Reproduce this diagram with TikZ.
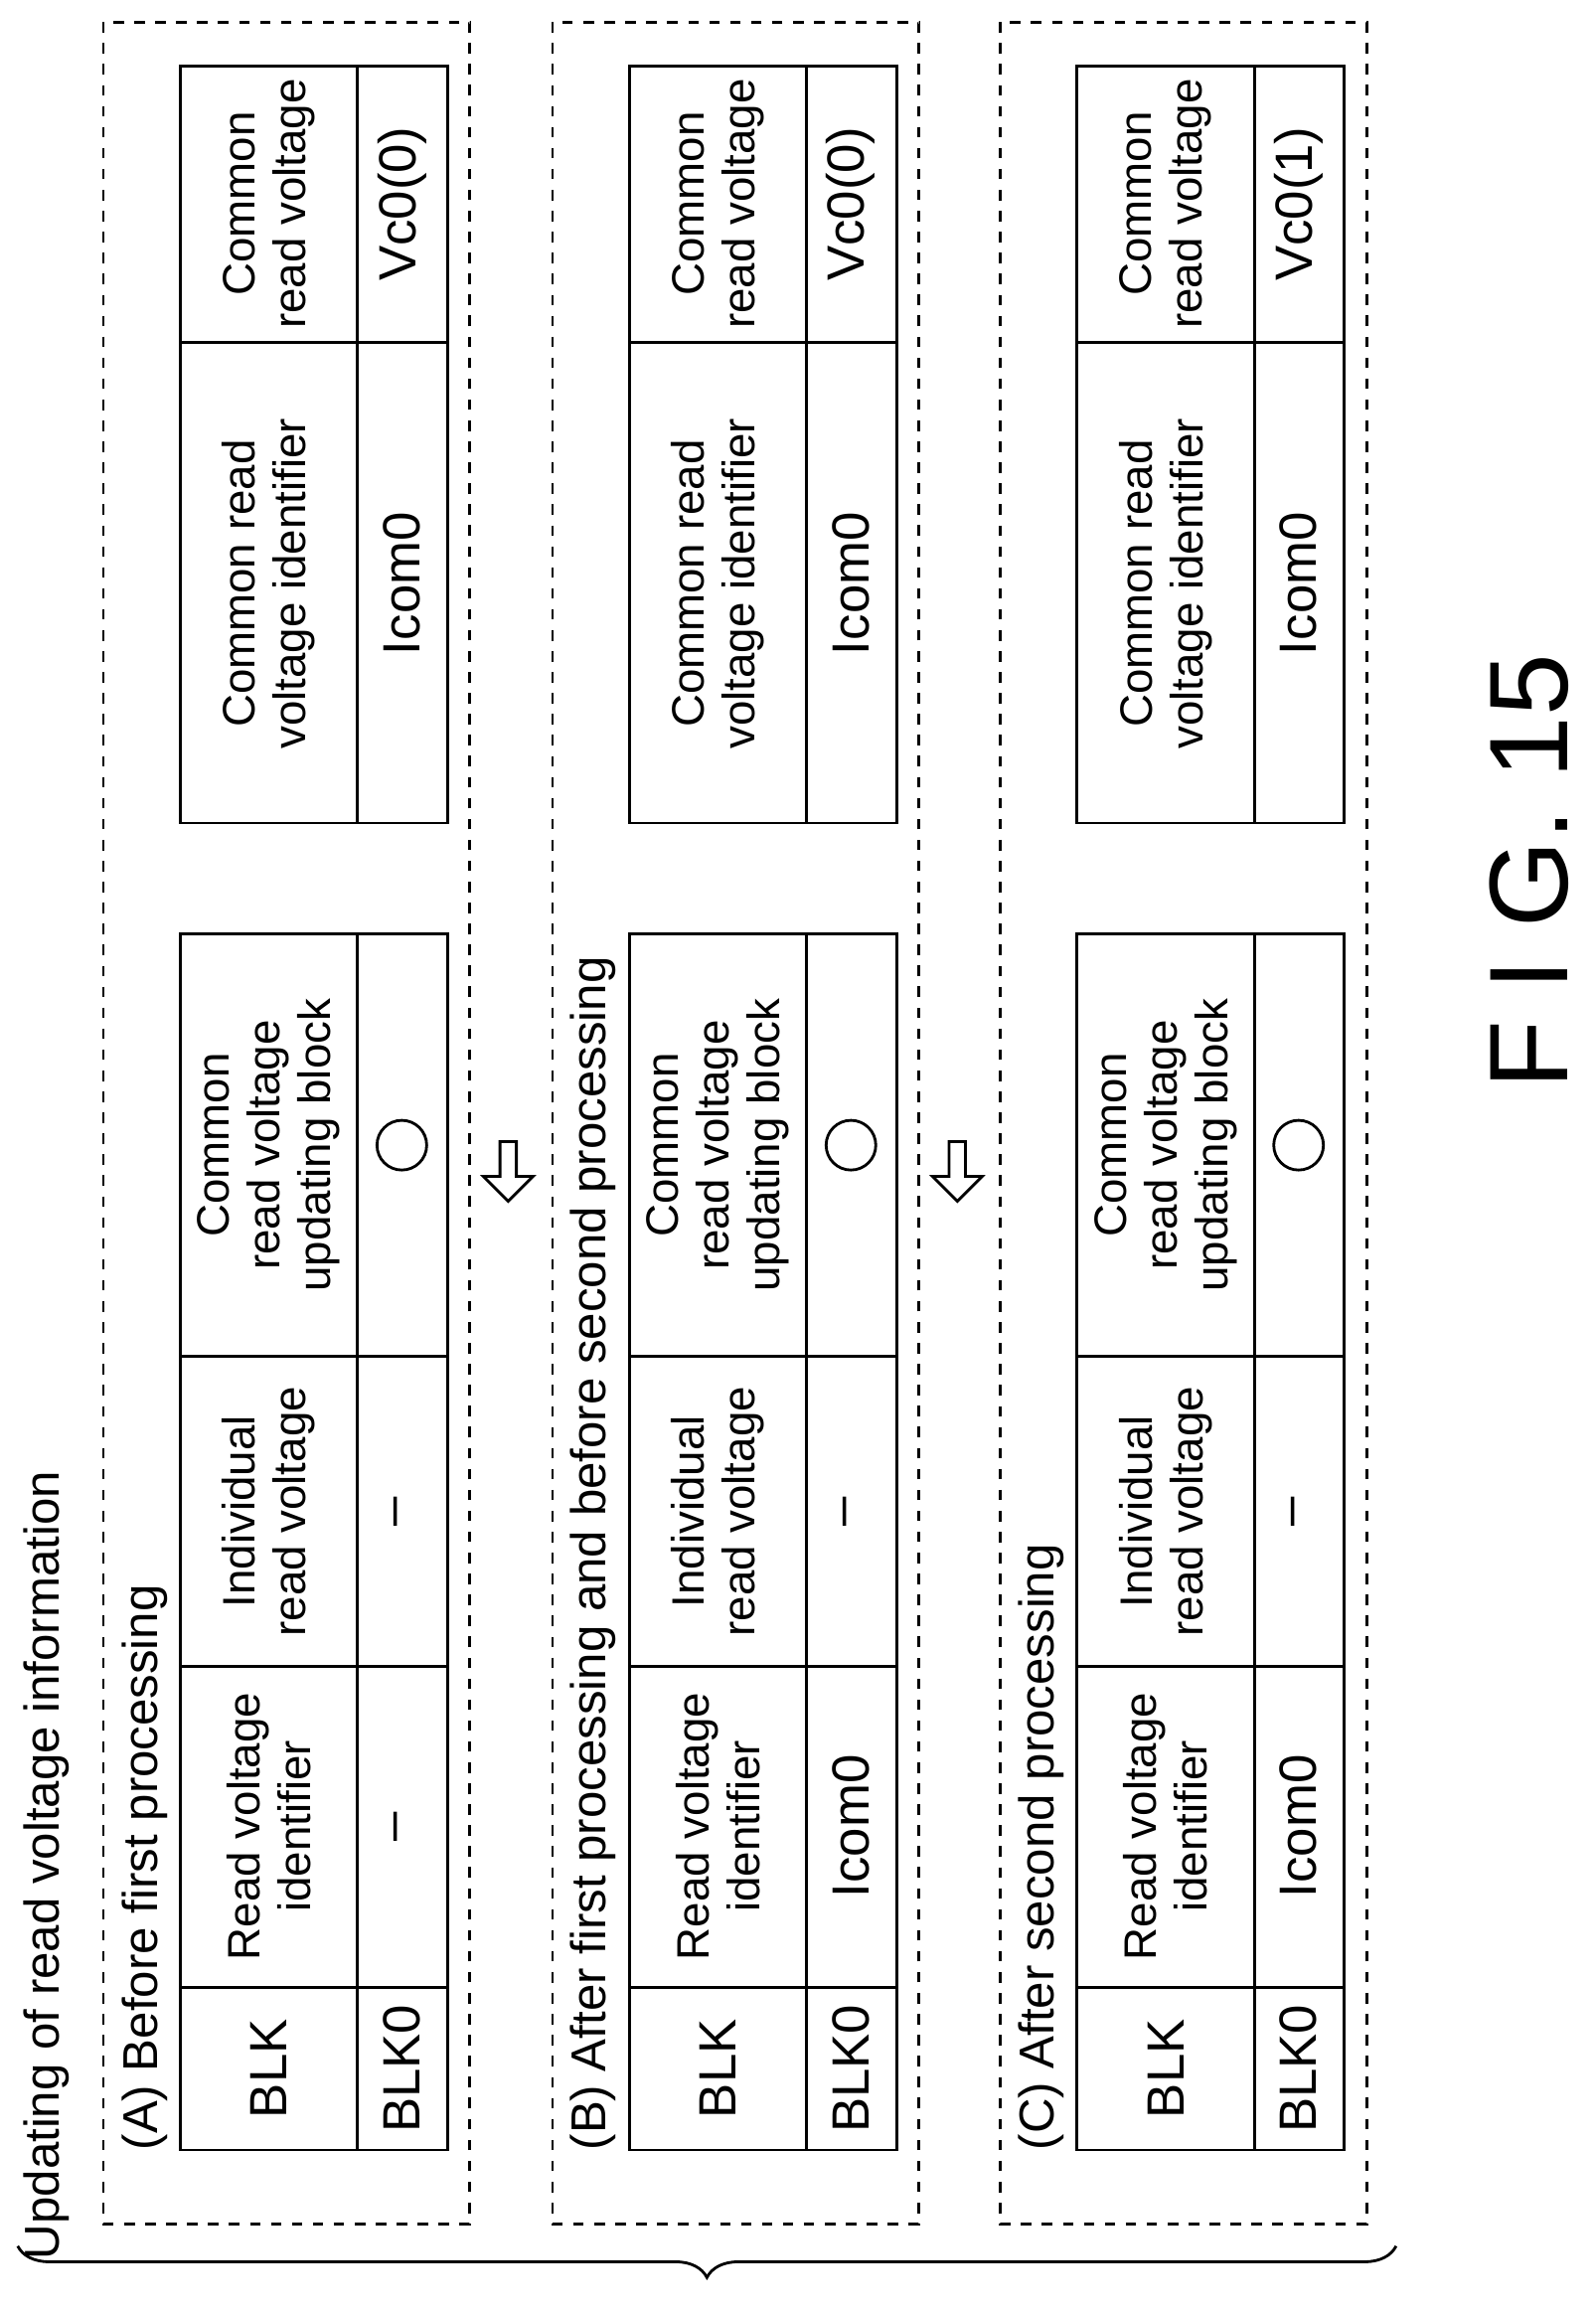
\documentclass[tikz,border=0pt]{standalone}
\usepackage{fontspec}
\setmainfont{Liberation Sans}
\usetikzlibrary{shapes.arrows,decorations.pathreplacing}

\tikzset{
  cell/.style={rotate=90, align=center, font=\fontsize{13}{14.5}\selectfont},
  val/.style={rotate=90, font=\fontsize{15}{17}\selectfont},
  panel/.style={dashed, thick},
  tbl/.style={thick},
  hollow/.style={single arrow, draw, thick, fill=white, rotate=-90,
    minimum height=0.6cm, minimum width=0.5cm, single arrow head extend=0.1cm, inner sep=1pt}
}

% one panel: #1 = x offset, #2 = name, #3 #4 #5 #6 #7 #8 = values
\newcommand{\rvpanel}[8]{%
  \draw[panel] (70+#1,15) rectangle (318+#1,1505);
  % first table
  \draw[tbl] (122+#1,632) rectangle (303+#1,1455);
  \draw[tbl] (242+#1,632) -- (242+#1,1455);
  \foreach \yy in {918,1128,1345} \draw[tbl] (122+#1,\yy) -- (303+#1,\yy);
  \node[cell] (#2blk) at (182+#1,1400) {\fontsize{15}{17}\selectfont BLK};
  \node[cell] (#2rvi) at (182+#1,1236) {Read voltage\\identifier};
  \node[cell] (#2ind) at (182+#1,1023) {Individual\\read voltage};
  \node[cell] (#2upd) at (182+#1,775) {Common\\read voltage\\updating block};
  \node[val] (#2blkv) at (272+#1,1400) {#3};
  \node[val] (#2rviv) at (272+#1,1236) {#4};
  \node[val] (#2indv) at (272+#1,1023) {#5};
  \node[draw, thick, circle, minimum size=0.5cm] (#2updv) at (272+#1,775) {};
  % second table
  \draw[tbl] (122+#1,45) rectangle (303+#1,557);
  \draw[tbl] (242+#1,45) -- (242+#1,557);
  \draw[tbl] (122+#1,232) -- (303+#1,232);
  \node[cell] (#2cvi) at (182+#1,395) {Common read\\voltage identifier};
  \node[cell] (#2cv) at (182+#1,138) {Common\\read voltage};
  \node[val] (#2cviv) at (272+#1,395) {#6};
  \node[val] (#2cvv) at (272+#1,138) {#7};
  \node[cell, anchor=south west, inner sep=1pt, font=\fontsize{14}{16}\selectfont] (#2lbl) at (116+#1,1458) {#8};
}

\begin{document}
\begin{tikzpicture}[x=0.014861cm, y=-0.014861cm]
\useasboundingbox (0,0) rectangle (1080,1566);

% panels
\rvpanel{0}{a}{BLK0}{--}{--}{Icom0}{Vc0(0)}{(A) Before first processing}
\rvpanel{304}{b}{BLK0}{Icom0}{--}{Icom0}{Vc0(0)}{(B) After first processing and before second processing}
\rvpanel{607}{c}{BLK0}{Icom0}{--}{Icom0}{Vc0(1)}{(C) After second processing}

% arrows between panels
\node[hollow] (ab) at (344,790) {};
\node[hollow] (bc) at (648,790) {};

% brace and title
\draw[thick, decorate, decoration={brace, amplitude=9pt}] (945,1520) -- (12,1520);
\node[cell, anchor=south west, inner sep=1pt, font=\fontsize{14}{16}\selectfont] (title) at (50,1532) {Updating of read voltage information};

\node[rotate=90, font=\fontsize{32}{36}\selectfont] (fig) at (1035,590) {F I G. 15};
\end{tikzpicture}
\end{document}
